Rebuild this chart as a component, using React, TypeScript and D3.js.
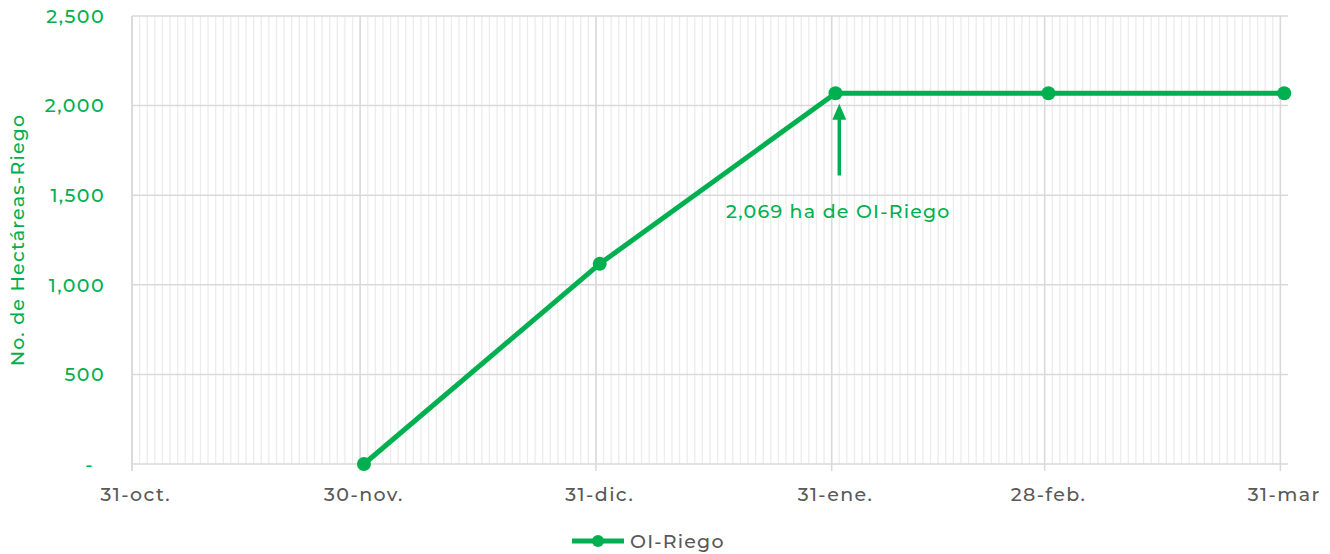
import React from "react";
import * as d3 from "d3";

const seriesName = "OI-Riego";
const pointDates = ["2022-11-30", "2022-12-31", "2023-01-31", "2023-02-28", "2023-03-31"];
const pointValues = [0, 1117, 2069, 2069, 2069];
const tickDates = ["2022-10-31", "2022-11-30", "2022-12-31", "2023-01-31", "2023-02-28", "2023-03-31"];
const tickLabels = ["31-oct.", "30-nov.", "31-dic.", "31-ene.", "28-feb.", "31-mar"];
const yTicks = [0, 500, 1000, 1500, 2000, 2500];
const domainStart = "2022-10-31";
const domainEnd = "2023-04-01";
const annotationText = "2,069 ha de OI-Riego";
const annotationDate = "2023-02-01";
const arrowFrom = 1610;
const arrowTo = 2010;
const annotationTextValue = 1375;

const W = 1330;
const H = 554;
const green = "#00B050";
const grayText = "#595959";
const FONT = "Montserrat, 'Noto Sans', sans-serif";

const parse = (s: string) => new Date(s + "T00:00:00Z");
const half = (d: Date) => new Date(d.getTime() + 12 * 3600 * 1000);

export default function App() {
  const x = d3.scaleUtc().domain([parse(domainStart), parse(domainEnd)]).range([132, 1288]);
  const y = d3.scaleLinear().domain([0, 2500]).range([464, 16]);
  const days = d3.utcDay.range(parse(domainStart), parse(domainEnd));
  const pts = pointDates.map((d, i) => ({ x: x(half(parse(d))), y: y(pointValues[i]) }));
  const line = d3.line<{ x: number; y: number }>().x((p) => p.x).y((p) => p.y);
  const fmt = d3.format(",");
  const ax = x(parse(annotationDate));
  const legendY = 541;
  return (
    <svg width={W} height={H} style={{ position: "absolute", left: 0, top: 0 }} fontFamily={FONT} fontWeight={500}>
      <rect width={W} height={H} fill="#fff" />
      {days.map((d, i) => (
        <line key={"m" + i} x1={x(d)} x2={x(d)} y1={16} y2={464} stroke="#ececec" strokeWidth={1.3} />
      ))}
      {yTicks.map((t) => (
        <line key={"h" + t} x1={132} x2={1288} y1={y(t)} y2={y(t)} stroke="#d9d9d9" strokeWidth={1.5} />
      ))}
      {tickDates.map((d) => (
        <line key={"v" + d} x1={x(parse(d))} x2={x(parse(d))} y1={16} y2={471} stroke="#d9d9d9" strokeWidth={1.5} />
      ))}
      <line x1={132} x2={132} y1={16} y2={471} stroke="#d9d9d9" strokeWidth={1.5} />
      {yTicks.map((t) => (
        <text key={"yt" + t} x={t === 0 ? 94 : 105} y={y(t)} dy="0.36em" textAnchor="end" fill={green} fontSize={19} letterSpacing={1.4}>
          {t === 0 ? "-" : fmt(t)}
        </text>
      ))}
      {tickDates.map((d, i) => (
        <text key={"xt" + d} x={x(half(parse(d)))} y={501} textAnchor="middle" fill={grayText} fontSize={19} letterSpacing={1.4}>
          {tickLabels[i]}
        </text>
      ))}
      <text transform={`translate(24,${240}) rotate(-90)`} textAnchor="middle" fill={green} fontSize={19} letterSpacing={1.2}>
        No. de Hectáreas-Riego
      </text>
      <path d={line(pts) || ""} fill="none" stroke={green} strokeWidth={5} strokeLinejoin="round" />
      {pts.map((p, i) => (
        <circle key={"c" + i} cx={p.x} cy={p.y} r={7} fill={green} />
      ))}
      <line x1={ax} x2={ax} y1={y(arrowFrom)} y2={y(arrowTo) + 14} stroke={green} strokeWidth={3.5} />
      <path d={`M${ax - 7},${y(arrowTo) + 16} L${ax},${y(arrowTo)} L${ax + 7},${y(arrowTo) + 16} Z`} fill={green} />
      <text x={ax - 1} y={y(annotationTextValue)} textAnchor="middle" fill={green} fontSize={19} letterSpacing={1.2}>
        {annotationText}
      </text>
      <line x1={572} x2={624} y1={legendY} y2={legendY} stroke={green} strokeWidth={5} />
      <circle cx={598} cy={legendY} r={6} fill={green} />
      <text x={630} y={legendY} dy="0.36em" fill={grayText} fontSize={19} letterSpacing={1.2}>
        {seriesName}
      </text>
    </svg>
  );
}
